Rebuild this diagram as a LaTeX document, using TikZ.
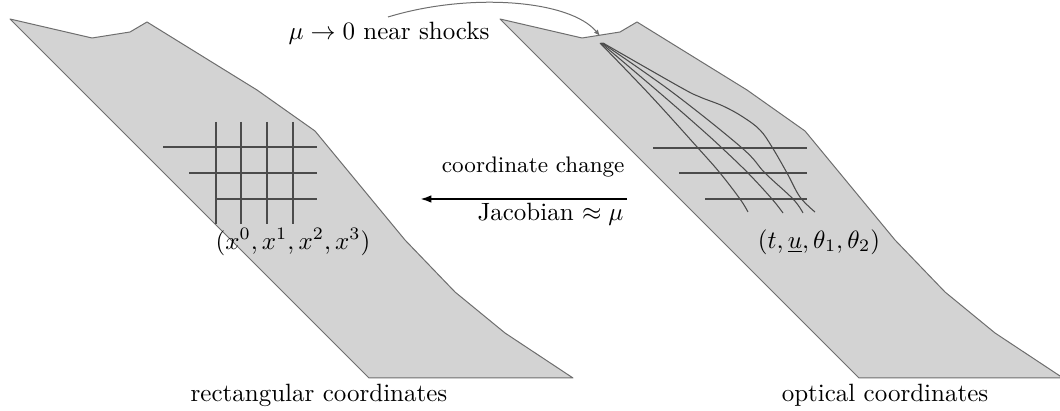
\documentclass[tikz,border=0pt]{standalone}
\usetikzlibrary{arrows.meta}
\definecolor{sheetfill}{RGB}{211,211,211}
\definecolor{sheetline}{RGB}{110,110,110}
\definecolor{gridline}{RGB}{75,75,75}
\tikzset{
  sheet/.style={fill=sheetfill, draw=sheetline, line width=0.4pt, line join=round},
  gridln/.style={draw=gridline, line width=0.42pt},
  lbl/.style={inner sep=0pt, font=\fontsize{10}{12}\selectfont},
  smalllbl/.style={inner sep=0pt, font=\fontsize{9}{11}\selectfont},
}
\begin{document}
\begin{tikzpicture}[x=0.4pt,y=-0.4pt]
\useasboundingbox (0,0) rectangle (1060,411);
% sheets
\foreach \dx in {0,490}{
  \begin{scope}[shift={(\dx,0)}]
  \path[sheet] (10,19) -- (92,38) -- (130,32) -- (147,22) -- (257,90) -- (315,131)
     -- (405,240) -- (455,292) -- (505,333) -- (573,378) -- (369,378) -- cycle;
  \end{scope}
}
% left grid
\foreach \x in {216,241,267,293}{ \draw[gridln] (\x,122) -- (\x,224); }
\draw[gridln] (163,147) -- (317,147);
\draw[gridln] (189,173) -- (317,173);
\draw[gridln] (215,199) -- (317,199);
% right grid
\draw[gridln] (653,148) -- (807,148);
\draw[gridln] (679,173) -- (807,173);
\draw[gridln] (705,199) -- (807,199);
\draw[gridln] plot[smooth, tension=0.6] coordinates {(600,43) (650,95) (698,148) (720,173) (740,199) (748,212)};
\draw[gridln] plot[smooth, tension=0.6] coordinates {(601,43) (661,94) (700,128) (722,148) (748,173) (772,199) (783,213)};
\draw[gridln] plot[smooth, tension=0.6] coordinates {(602,43) (672,92) (742,148) (765,173) (793,199) (803,213)};
\draw[gridln] plot[smooth, tension=0.6] coordinates {(603,43) (680,87) (700,97) (723,106) (743,117) (760,130) (772,147) (787,173) (800,197) (815,212)};
% labels
\node[lbl] (rect) at (293,242) {$(x^0,x^1,x^2,x^3)$};
\node[lbl] (opt) at (819,242) {$(t,\underline{u},\theta_1,\theta_2)$};
\node[lbl] (rectname) at (319,395) {rectangular coordinates};
\node[lbl] (optname) at (885,395) {optical coordinates};
\node[lbl] (mu) at (389,33) {$\mu\to 0$ near shocks};
\node[smalllbl, anchor=east] (cc) at (625,167) {coordinate change};
\node[lbl, anchor=east] (jac) at (624,214) {Jacobian $\approx\mu$};
% arrows
\coordinate (arrR) at (627,199);
\coordinate (arrL) at (420,199);
\draw[line width=0.8pt, -{Latex[length=4.5pt,width=3pt]}] (arrR) -- (arrL);
\coordinate (muS) at (388,17);
\coordinate (muT) at (600,36);
\draw[sheetline, line width=0.4pt, -{Latex[length=2.5pt,width=2pt]}] (muS) .. controls (470,-8) and (570,0) .. (muT);
\end{tikzpicture}
\end{document}
